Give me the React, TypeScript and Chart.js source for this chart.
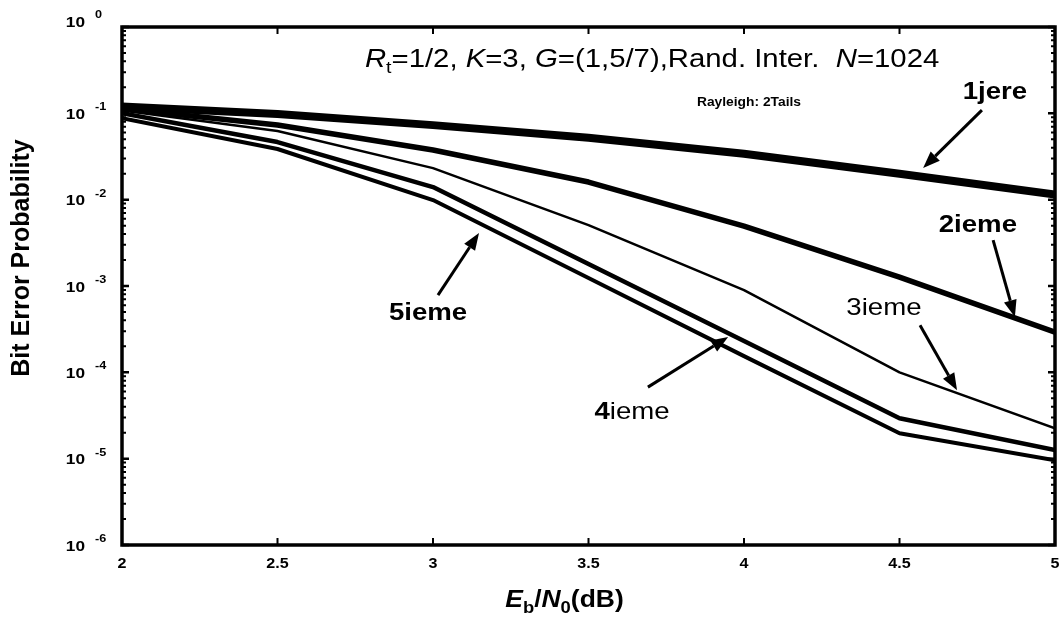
import React, { useEffect, useRef } from "react";
import { Chart, registerables } from "chart.js";

Chart.register(...registerables);

// Eb/N0 grid (dB)
const ebn0 = [2, 2.5, 3, 3.5, 4, 4.5, 5];

// Bit error probability after each decoding iteration
const iter1 = [0.12, 0.098, 0.073, 0.052, 0.034, 0.02, 0.0115];
const iter2 = [0.113, 0.0732, 0.0376, 0.016, 0.00494, 0.00127, 0.000292];
const iter3 = [0.108, 0.0624, 0.0232, 0.00508, 0.000897, 0.0001, 0.0000225];
const iter4 = [0.1, 0.0465, 0.014, 0.0018, 0.00023, 0.0000294, 0.0000126];
const iter5 = [0.088, 0.0386, 0.0099, 0.00124, 0.000154, 0.0000197, 0.0000096];

const iterNames = ["1jere", "2ieme", "3ieme", "4ieme", "5ieme"];
const iterWidths = [8, 5.5, 2.5, 4.5, 4];

const xTicks = [2, 2.5, 3, 3.5, 4, 4.5, 5];
const xTickLabels = ["2", "2.5", "3", "3.5", "4", "4.5", "5"];
const yExponents = [0, -1, -2, -3, -4, -5, -6];

const FONT = '"Liberation Sans", Arial, Helvetica, sans-serif';
const SX = 1.15; // horizontal stretch of the lettering

type Part = { t: string; size: number; bold?: boolean; italic?: boolean; dy?: number };

function fontOf(p: Part) {
  return `${p.italic ? "italic " : ""}${p.bold ? "bold " : ""}${p.size}px ${FONT}`;
}

function drawRich(ctx: CanvasRenderingContext2D, parts: Part[], x: number, y: number, align: "left" | "center" | "right", baseline: CanvasTextBaseline = "alphabetic") {
  ctx.save();
  ctx.translate(x, y);
  ctx.scale(SX, 1);
  ctx.textAlign = "left";
  ctx.textBaseline = baseline;
  let w = 0;
  for (const p of parts) {
    ctx.font = fontOf(p);
    w += ctx.measureText(p.t).width;
  }
  let cx = align === "center" ? -w / 2 : align === "right" ? -w : 0;
  for (const p of parts) {
    ctx.font = fontOf(p);
    ctx.fillText(p.t, cx, p.dy || 0);
    cx += ctx.measureText(p.t).width;
  }
  ctx.restore();
}

// Annotation anchors in data units: [x, y]
const titleAt: [number, number] = [2.781, 0.344];
const subtitleAt: [number, number] = [4.016, 0.1215];

const callouts: { parts: Part[]; text: [number, number]; from: [number, number]; to: [number, number] }[] = [
  {
    parts: [{ t: iterNames[0], size: 24, bold: true }],
    text: [4.807, 0.1766],
    from: [4.765, 0.109],
    to: [4.576, 0.0232],
  },
  {
    parts: [{ t: iterNames[1], size: 24, bold: true }],
    text: [4.752, 0.00508],
    from: [4.801, 0.0034],
    to: [4.871, 0.000436],
  },
  {
    parts: [{ t: iterNames[2], size: 24 }],
    text: [4.45, 0.000555],
    from: [4.566, 0.000352],
    to: [4.685, 0.000062],
  },
  {
    parts: [
      { t: iterNames[3].slice(0, 1), size: 24, bold: true },
      { t: iterNames[3].slice(1), size: 24 },
    ],
    text: [3.64, 0.0000346],
    from: [3.691, 0.0000674],
    to: [3.949, 0.000256],
  },
  {
    parts: [{ t: iterNames[4], size: 24, bold: true }],
    text: [2.984, 0.000485],
    from: [3.016, 0.000785],
    to: [3.148, 0.0041],
  },
];

function arrow(ctx: CanvasRenderingContext2D, x0: number, y0: number, x1: number, y1: number) {
  const ang = Math.atan2(y1 - y0, x1 - x0);
  const head = 17;
  const half = 6.5;
  const bx = x1 - head * Math.cos(ang);
  const by = y1 - head * Math.sin(ang);
  ctx.save();
  ctx.strokeStyle = "#000";
  ctx.fillStyle = "#000";
  ctx.lineWidth = 3;
  ctx.beginPath();
  ctx.moveTo(x0, y0);
  ctx.lineTo(bx, by);
  ctx.stroke();
  ctx.beginPath();
  ctx.moveTo(x1, y1);
  ctx.lineTo(bx + half * Math.sin(ang), by - half * Math.cos(ang));
  ctx.lineTo(bx - half * Math.sin(ang), by + half * Math.cos(ang));
  ctx.closePath();
  ctx.fill();
  ctx.restore();
}

const decorations = {
  id: "decorations",
  afterDraw(chart: any) {
    const ctx: CanvasRenderingContext2D = chart.ctx;
    const { left, right, top, bottom } = chart.chartArea;
    const xs = chart.scales.x;
    const ys = chart.scales.y;
    const px = (v: number) => xs.getPixelForValue(v);
    const py = (v: number) => ys.getPixelForValue(v);

    ctx.save();
    ctx.fillStyle = "#000";
    ctx.strokeStyle = "#000";

    // frame
    ctx.lineWidth = 3.5;
    ctx.strokeRect(left, top, right - left, bottom - top);

    // x ticks (inward, top and bottom)
    ctx.lineWidth = 2;
    xTicks.forEach((v) => {
      const x = px(v);
      ctx.beginPath();
      ctx.moveTo(x, bottom);
      ctx.lineTo(x, bottom - 7);
      ctx.moveTo(x, top);
      ctx.lineTo(x, top + 7);
      ctx.stroke();
    });

    // y ticks, major and minor (inward, left and right)
    yExponents.forEach((e) => {
      const y = py(Math.pow(10, e));
      ctx.lineWidth = 2.5;
      ctx.beginPath();
      ctx.moveTo(left, y);
      ctx.lineTo(left + 7, y);
      ctx.moveTo(right, y);
      ctx.lineTo(right - 7, y);
      ctx.stroke();
      if (e > -6) {
        ctx.lineWidth = 2;
        for (let m = 2; m <= 9; m++) {
          const ym = py(m * Math.pow(10, e - 1));
          ctx.beginPath();
          ctx.moveTo(left, ym);
          ctx.lineTo(left + 4, ym);
          ctx.moveTo(right, ym);
          ctx.lineTo(right - 4, ym);
          ctx.stroke();
        }
      }
    });

    // y tick labels: 10 with raised exponent (the top one sits a little higher)
    yExponents.forEach((e) => {
      const y = py(Math.pow(10, e)) - (e === 0 ? 6 : 0);
      drawRich(ctx, [{ t: "10", size: 15, bold: true }], left - 37, y + 5.5, "right");
      drawRich(ctx, [{ t: String(e), size: 11, bold: true }], left - 27, y - 3, "left");
    });

    // x tick labels
    xTicks.forEach((v, i) => {
      drawRich(ctx, [{ t: xTickLabels[i], size: 14, bold: true }], px(v), bottom + 23, "center");
    });

    // axis titles
    drawRich(
      ctx,
      [
        { t: "E", size: 23, italic: true, bold: true },
        { t: "b", size: 16, bold: true, dy: 6 },
        { t: "/", size: 23, bold: true },
        { t: "N", size: 23, italic: true, bold: true },
        { t: "0", size: 16, bold: true, dy: 6 },
        { t: "(dB)", size: 23, bold: true },
      ],
      (left + right) / 2 - 24,
      bottom + 62,
      "center"
    );
    ctx.save();
    ctx.translate(22, 258);
    ctx.rotate(-Math.PI / 2);
    ctx.font = `bold 25px ${FONT}`;
    ctx.textAlign = "center";
    ctx.textBaseline = "middle";
    ctx.fillText("Bit Error Probability", 0, 0);
    ctx.restore();

    // header text inside the plot
    drawRich(
      ctx,
      [
        { t: "R", size: 25.5, italic: true },
        { t: "t", size: 17, dy: 6 },
        { t: "=1/2, ", size: 25.5 },
        { t: "K", size: 25.5, italic: true },
        { t: "=3, ", size: 25.5 },
        { t: "G", size: 25.5, italic: true },
        { t: "=(1,5/7),Rand. Inter.  ", size: 25.5 },
        { t: "N", size: 25.5, italic: true },
        { t: "=1024", size: 25.5 },
      ],
      px(titleAt[0]),
      py(titleAt[1]),
      "left"
    );
    drawRich(ctx, [{ t: "Rayleigh: 2Tails", size: 12, bold: true }], px(subtitleAt[0]), py(subtitleAt[1]), "center");

    // iteration callouts
    callouts.forEach((c) => {
      drawRich(ctx, c.parts, px(c.text[0]), py(c.text[1]), "center", "middle");
      arrow(ctx, px(c.from[0]), py(c.from[1]), px(c.to[0]), py(c.to[1]));
    });

    ctx.restore();
  },
};

export default function App() {
  const canvasRef = useRef<HTMLCanvasElement | null>(null);

  useEffect(() => {
    const canvas = canvasRef.current;
    if (!canvas) return;
    const series = [iter1, iter2, iter3, iter4, iter5];
    const chart = new Chart(canvas, {
      type: "line",
      data: {
        datasets: series.map((s, i) => ({
          label: iterNames[i],
          data: ebn0.map((x, j) => ({ x, y: s[j] })),
          borderColor: "#000",
          backgroundColor: "#000",
          borderWidth: iterWidths[i],
          pointRadius: 0,
          tension: 0,
          fill: false,
          borderJoinStyle: "round" as const,
        })),
      },
      options: {
        responsive: false,
        animation: false,
        devicePixelRatio: 1,
        layout: { padding: { left: 0, right: 4, top: 27, bottom: 0 } },
        plugins: {
          legend: { display: false },
          tooltip: { enabled: false },
          title: { display: false },
        },
        scales: {
          x: {
            type: "linear",
            min: 2,
            max: 5,
            grid: { display: false },
            border: { display: false },
            ticks: { display: false },
            afterFit: (s: any) => {
              s.height = 76;
            },
          },
          y: {
            type: "logarithmic",
            min: 1e-6,
            max: 1,
            grid: { display: false },
            border: { display: false },
            ticks: { display: false },
            afterFit: (s: any) => {
              s.width = 122;
            },
          },
        },
      },
      plugins: [decorations],
    });
    return () => chart.destroy();
  }, []);

  return (
    <div style={{ position: "absolute", left: 0, top: 0, width: 1059, height: 621, background: "#fff" }}>
      <canvas ref={canvasRef} width={1059} height={621} />
    </div>
  );
}
